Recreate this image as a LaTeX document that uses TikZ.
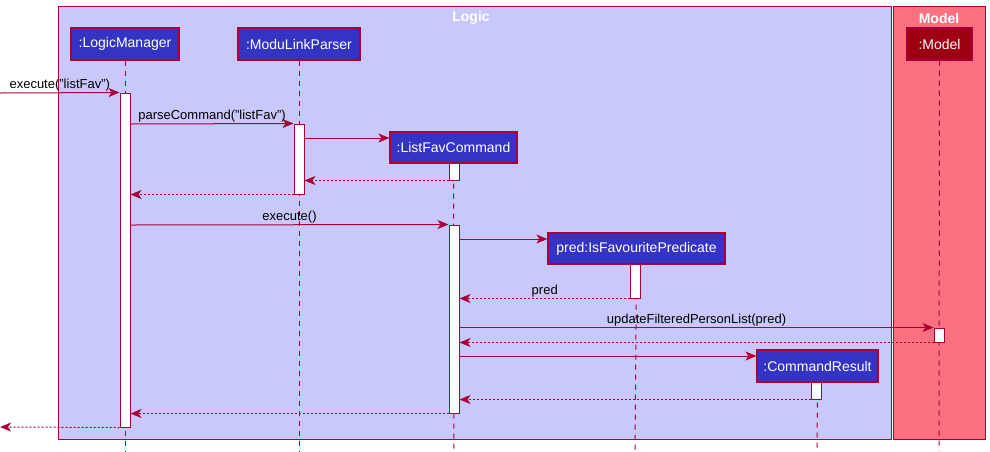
\documentclass[tikz,border=0pt]{standalone}
\usepackage{fontspec}
\setmainfont{Liberation Sans}
\usetikzlibrary{arrows.meta}
\definecolor{brd}{HTML}{A80036}
\definecolor{logicbg}{HTML}{C8C8FA}
\definecolor{modelbg}{HTML}{F97181}
\definecolor{partc}{HTML}{3333C4}
\definecolor{modelpart}{HTML}{9D0012}
\begin{document}
\begin{tikzpicture}[x=1pt,y=-1pt,
  frame/.style={draw=brd, line width=1pt},
  ftitle/.style={text=white, font=\bfseries\fontsize{14}{16}\selectfont, inner sep=0pt},
  partbox/.style={draw=brd, line width=1.2pt, fill=partc, text=white, font=\fontsize{14}{16}\selectfont, inner sep=0pt},
  actbar/.style={draw=brd, line width=1pt, fill=white, minimum width=10pt, inner sep=0pt},
  lifeline/.style={draw=brd, line width=1pt, dash pattern=on 5pt off 5pt},
  msg/.style={draw=brd, line width=1pt, -{Stealth[length=11pt,width=9pt,inset=3pt]}},
  ret/.style={msg, dash pattern=on 2pt off 2pt},
  lbl/.style={font=\fontsize{13}{15}\selectfont, text=black, inner sep=0pt, anchor=south}
]
\useasboundingbox (0,0) rectangle (990,451);
% frames
\node[frame, fill=logicbg, minimum width=833pt, minimum height=433pt, inner sep=0pt] (logic) at (474.5,222.5) {};
\node[frame, fill=modelbg, minimum width=92pt, minimum height=433pt, inner sep=0pt] (model) at (939,222.5) {};
\node[ftitle] (logicT) at (471,18) {Logic};
\node[ftitle] (modelT) at (939,18) {Model};
% lifeline coordinates
\coordinate (lmB) at (125,451);
\coordinate (mpB) at (299,451);
\coordinate (lfB) at (454,451);
\coordinate (prB) at (635,451);
\coordinate (crB) at (817,451);
\coordinate (moB) at (939,451);
% participants
\node[partbox, minimum width=108pt, minimum height=32pt] (lm) at (125,44) {:LogicManager};
\node[partbox, minimum width=122pt, minimum height=32pt] (mp) at (299,44) {:ModuLinkParser};
\node[partbox, minimum width=127pt, minimum height=31pt] (lf) at (453.5,147.5) {:ListFavCommand};
\node[partbox, minimum width=177pt, minimum height=31pt] (pr) at (636.5,248.5) {pred:IsFavouritePredicate};
\node[partbox, minimum width=121pt, minimum height=32pt] (cr) at (817.5,366) {:CommandResult};
\node[partbox, fill=modelpart, minimum width=65pt, minimum height=32pt] (mo) at (939.5,44) {:Model};
% lifelines
\draw[lifeline] (lm.south) -- (lmB);
\draw[lifeline] (mp.south) -- (mpB);
\draw[lifeline] (lf.south) -- (lfB);
\draw[lifeline] (pr.south) -- (prB);
\draw[lifeline] (cr.south) -- (crB);
\draw[lifeline] (mo.south) -- (moB);
% activation bars
\node[actbar, minimum height=334pt] (a1) at (125,260) {};
\node[actbar, minimum height=70pt] (a2) at (299,159) {};
\node[actbar, minimum height=17pt] (a3) at (454,171.5) {};
\node[actbar, minimum height=188pt] (a4) at (454,319) {};
\node[actbar, minimum height=34pt] (a5) at (635.5,281) {};
\node[actbar, minimum height=14pt] (a6) at (939,335) {};
\node[actbar, minimum height=17pt] (a7) at (816.5,390.5) {};
% message endpoints
\coordinate (in) at (0,93);
\coordinate (out) at (0,427);
% messages
\draw[msg] (in) -- (a1.north west) node[lbl, midway, above=1pt] {execute("listFav")};
\draw[msg] (a1.east |- 0,124) -- (a2.north west) node[lbl, midway, above=1pt] {parseCommand("listFav")};
\draw[msg] (a2.east |- 0,138) -- (lf.west |- 0,138);
\draw[ret] (a3.south west) -- (a2.east |- a3.south);
\draw[ret] (a2.south west) -- (a1.east |- a2.south);
\draw[msg] (a1.east |- 0,225) -- (a4.north west) node[lbl, midway, above=1pt] {execute()};
\draw[msg] (a4.east |- 0,239) -- (pr.west |- 0,239);
\draw[ret] (a5.south west) -- (a4.east |- a5.south) node[lbl, midway, above=1pt] {pred};
\draw[msg] (a4.east |- a6.north) -- (a6.north west) node[lbl, midway, above=1pt] {updateFilteredPersonList(pred)};
\draw[ret] (a6.south west) -- (a4.east |- a6.south);
\draw[msg] (a4.east |- 0,356) -- (cr.west |- 0,356);
\draw[ret] (a7.south west) -- (a4.east |- a7.south);
\draw[ret] (a4.south west) -- (a1.east |- a4.south);
\draw[ret] (a1.south west) -- (out);
\end{tikzpicture}
\end{document}
